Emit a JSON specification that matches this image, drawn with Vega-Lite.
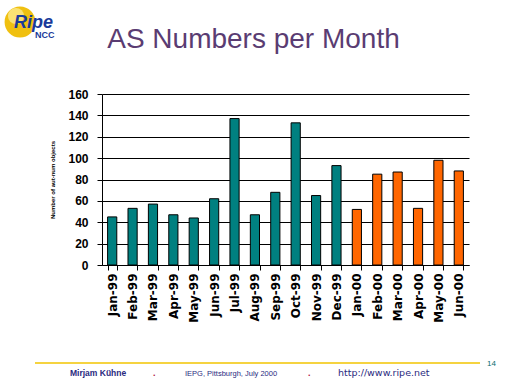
{
  "$schema": "https://vega.github.io/schema/vega-lite/v6.json",
  "width": 367,
  "height": 171,
  "autosize": {"type": "none"},
  "padding": {"left": 102, "top": 94, "right": 43, "bottom": 119},
  "background": "white",
  "config": {
    "view": {"stroke": null},
    "font": "Liberation Sans"
  },
  "layer": [
    {
      "data": {
        "values": [
          {"month": "Jan-99", "year": "1999", "count": 45},
          {"month": "Feb-99", "year": "1999", "count": 53},
          {"month": "Mar-99", "year": "1999", "count": 57},
          {"month": "Apr-99", "year": "1999", "count": 47},
          {"month": "May-99", "year": "1999", "count": 44},
          {"month": "Jun-99", "year": "1999", "count": 62},
          {"month": "Jul-99", "year": "1999", "count": 137},
          {"month": "Aug-99", "year": "1999", "count": 47},
          {"month": "Sep-99", "year": "1999", "count": 68},
          {"month": "Oct-99", "year": "1999", "count": 133},
          {"month": "Nov-99", "year": "1999", "count": 65},
          {"month": "Dec-99", "year": "1999", "count": 93},
          {"month": "Jan-00", "year": "2000", "count": 52},
          {"month": "Feb-00", "year": "2000", "count": 85},
          {"month": "Mar-00", "year": "2000", "count": 87},
          {"month": "Apr-00", "year": "2000", "count": 53},
          {"month": "May-00", "year": "2000", "count": 98},
          {"month": "Jun-00", "year": "2000", "count": 88}
        ]
      },
      "mark": {"type": "bar", "stroke": "black", "strokeWidth": 1},
      "encoding": {
        "x": {
          "field": "month",
          "type": "nominal",
          "sort": null,
          "scale": {"paddingInner": 0.55, "paddingOuter": 0.275},
          "axis": {
            "title": null,
            "labelAngle": 270,
            "labelAlign": "right",
            "labelBaseline": "middle",
            "labelFont": "DejaVu Sans",
            "labelFontSize": 12,
            "labelFontWeight": "bold",
            "labelColor": "black",
            "labelPadding": 3,
            "tickBand": "extent",
            "tickSize": 5,
            "tickColor": "black",
            "domainColor": "black",
            "grid": false
          }
        },
        "y": {
          "field": "count",
          "type": "quantitative",
          "scale": {"domain": [0, 160]},
          "axis": {
            "title": "Number of aut-num objects",
            "titleFont": "Liberation Sans",
            "titleFontSize": 6,
            "titleFontWeight": "bold",
            "titleColor": "black",
            "titlePadding": 12,
            "values": [0, 20, 40, 60, 80, 100, 120, 140, 160],
            "labelFont": "Liberation Sans",
            "labelFontSize": 12,
            "labelFontWeight": "bold",
            "labelColor": "black",
            "labelPadding": 9,
            "tickSize": 5,
            "tickColor": "black",
            "domainColor": "black",
            "grid": true,
            "gridColor": "black",
            "gridOpacity": 1,
            "gridWidth": 1
          }
        },
        "color": {
          "field": "year",
          "type": "nominal",
          "scale": {"domain": ["1999", "2000"], "range": ["#008080", "#ff6600"]},
          "legend": null
        }
      }
    },
    {
      "data": {"values": [{}]},
      "mark": {"type": "text", "text": "AS Numbers per Month", "font": "Liberation Sans", "fontSize": 28, "color": "#5a3c72", "align": "center", "baseline": "alphabetic"},
      "encoding": {"x": {"value": 151.5}, "y": {"value": -46}}
    },
    {
      "data": {"values": [{}]},
      "mark": {"type": "rule", "color": "#f2c500", "strokeWidth": 1.5},
      "encoding": {"x": {"value": -67}, "x2": {"value": 378}, "y": {"value": 269}}
    },
    {
      "data": {"values": [{}]},
      "mark": {"type": "text", "text": "14", "font": "Liberation Sans", "fontSize": 8, "color": "#0a6e6e", "align": "left", "baseline": "alphabetic"},
      "encoding": {"x": {"value": 385}, "y": {"value": 272}}
    },
    {
      "data": {"values": [{}]},
      "mark": {"type": "text", "text": "Mirjam Kühne", "font": "Liberation Sans", "fontSize": 8.5, "fontWeight": "bold", "color": "#2a2a80", "align": "left", "baseline": "alphabetic"},
      "encoding": {"x": {"value": -32}, "y": {"value": 282}}
    },
    {
      "data": {"values": [{}]},
      "mark": {"type": "text", "text": ".", "font": "Liberation Sans", "fontSize": 9, "fontWeight": "bold", "color": "#b01040", "align": "left", "baseline": "alphabetic"},
      "encoding": {"x": {"value": 51}, "y": {"value": 282}}
    },
    {
      "data": {"values": [{}]},
      "mark": {"type": "text", "text": "IEPG, Pittsburgh, July 2000", "font": "Liberation Sans", "fontSize": 7.5, "color": "#2a2a80", "align": "left", "baseline": "alphabetic"},
      "encoding": {"x": {"value": 83}, "y": {"value": 282}}
    },
    {
      "data": {"values": [{}]},
      "mark": {"type": "text", "text": ".", "font": "Liberation Sans", "fontSize": 9, "fontWeight": "bold", "color": "#b01040", "align": "left", "baseline": "alphabetic"},
      "encoding": {"x": {"value": 206}, "y": {"value": 282}}
    },
    {
      "data": {"values": [{}]},
      "mark": {"type": "text", "text": "http://www.ripe.net", "font": "DejaVu Sans", "fontSize": 9.5, "color": "#2a2a80", "align": "left", "baseline": "alphabetic"},
      "encoding": {"x": {"value": 236}, "y": {"value": 282}}
    },
    {
      "data": {"values": [{}]},
      "mark": {"type": "point", "shape": "circle", "filled": true, "color": "#f0c010", "size": 950, "opacity": 1},
      "encoding": {"x": {"value": -82}, "y": {"value": -72}}
    },
    {
      "data": {"values": [{}]},
      "mark": {"type": "point", "shape": "circle", "filled": true, "color": "#fbe680", "size": 260, "opacity": 0.9},
      "encoding": {"x": {"value": -86}, "y": {"value": -78}}
    },
    {
      "data": {"values": [{}]},
      "mark": {"type": "text", "text": "Ripe", "font": "Liberation Sans", "fontSize": 18, "fontWeight": "bold", "fontStyle": "italic", "color": "#1a3a9a", "align": "left", "baseline": "alphabetic"},
      "encoding": {"x": {"value": -88}, "y": {"value": -66}}
    },
    {
      "data": {"values": [{}]},
      "mark": {"type": "text", "text": "NCC", "font": "Liberation Sans", "fontSize": 9, "fontWeight": "bold", "color": "#1a3a9a", "align": "left", "baseline": "alphabetic"},
      "encoding": {"x": {"value": -67}, "y": {"value": -56}}
    }
  ]
}
